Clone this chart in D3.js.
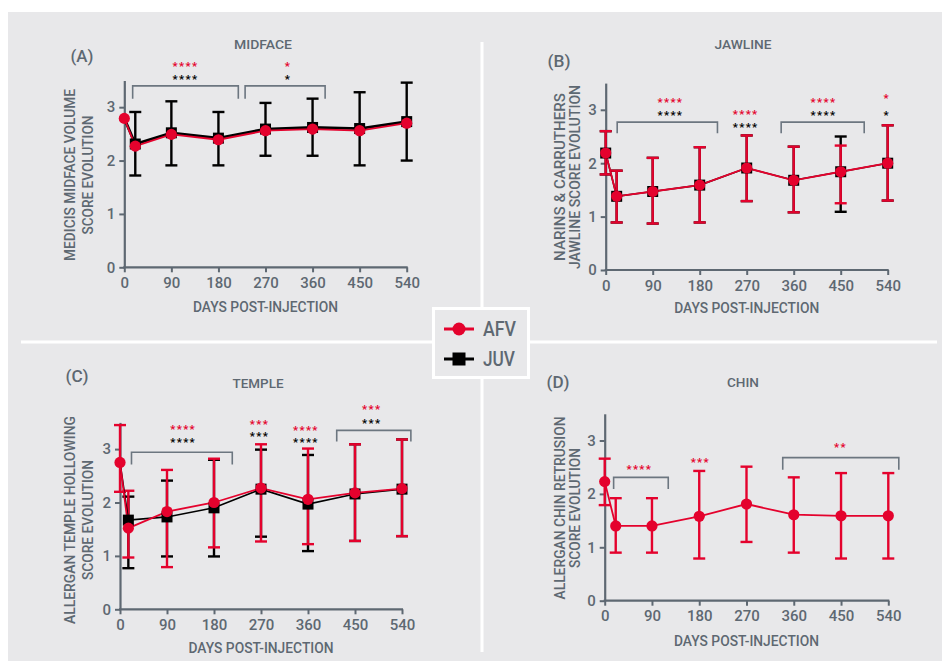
<!DOCTYPE html>
<html><head><meta charset="utf-8">
<script src="https://cdn.jsdelivr.net/npm/d3@7"></script>
<style>
html,body{margin:0;padding:0;background:#fff;}
svg{display:block;font-family:Roboto,"Open Sans",sans-serif;}
</style></head>
<body>
<svg id="c" width="942" height="661"></svg>
<script>
// ---------------- DATA ----------------
const dayTicks = [0, 90, 180, 270, 360, 450, 540];
const yTicks = [0, 1, 2, 3];
const days = [0, 21, 90, 180, 270, 360, 450, 540];
const daysTemple = [0, 16, 90, 180, 270, 360, 450, 540];

// (A) Midface
const midfaceAFV    = [2.79, 2.27, 2.49, 2.39, 2.56, 2.59, 2.56, 2.70];
const midfaceJUV    = [2.79, 2.31, 2.52, 2.42, 2.59, 2.62, 2.60, 2.73];
const midfaceJUVLo  = [null, 1.72, 1.91, 1.91, 2.09, 2.09, 1.91, 2.00];
const midfaceJUVHi  = [null, 2.91, 3.11, 2.91, 3.08, 3.16, 3.28, 3.46];
const midfaceBrackets = [[16, 218, 3.40, 3.16], [231, 384, 3.40, 3.16]];
const midfaceStars = [
  [117, 3.81, "****", 3.58, "****"],
  [313, 3.81, "*", 3.58, "*"]
];

// (B) Jawline
const jawAFV   = [2.19, 1.38, 1.47, 1.59, 1.91, 1.68, 1.84, 2.00];
const jawAFVLo = [1.79, 0.89, 0.87, 0.89, 1.29, 1.08, 1.25, 1.30];
const jawAFVHi = [2.60, 1.86, 2.10, 2.30, 2.52, 2.31, 2.33, 2.71];
const jawJUV   = [2.19, 1.38, 1.47, 1.59, 1.91, 1.68, 1.84, 2.00];
const jawJUVLo = [1.79, 0.89, 0.87, 0.89, 1.29, 1.08, 1.09, 1.30];
const jawJUVHi = [2.60, 1.86, 2.10, 2.30, 2.52, 2.31, 2.50, 2.71];
const jawBrackets = [[22, 214, 2.77, 2.56], [336, 495, 2.77, 2.56]];
const jawStars = [
  [124, 3.18, "****", 2.94, "****"],
  [268, 2.96, "****", 2.73, "****"],
  [417, 3.18, "****", 2.94, "****"],
  [538, 3.26, "*", 2.95, "*"]
];

// (C) Temple
const templeAFV   = [2.75, 1.52, 1.83, 2.00, 2.27, 2.06, 2.18, 2.26];
const templeAFVLo = [2.20, 0.97, 0.79, 1.16, 1.27, 1.22, 1.28, 1.37];
const templeAFVHi = [3.45, 2.22, 2.61, 2.82, 3.09, 3.01, 3.09, 3.18];
const templeJUV   = [2.75, 1.67, 1.73, 1.90, 2.25, 1.97, 2.16, 2.25];
const templeJUVLo = [null, 0.77, 0.99, 0.99, 1.36, 1.09, 1.28, 1.37];
const templeJUVHi = [null, 2.11, 2.41, 2.80, 2.99, 2.89, 3.09, 3.18];
const templeBrackets = [[22, 215, 2.94, 2.71], [415, 557, 3.35, 3.14]];
const templeStars = [
  [121, 3.42, "****", 3.17, "****"],
  [267, 3.52, "***", 3.28, "***"],
  [356, 3.41, "****", 3.17, "****"],
  [482, 3.79, "***", 3.54, "***"]
];

// (D) Chin
const chinAFV   = [2.23, 1.40, 1.40, 1.58, 1.81, 1.61, 1.59, 1.59];
const chinAFVLo = [1.79, 0.90, 0.90, 0.79, 1.10, 0.90, 0.79, 0.79];
const chinAFVHi = [2.66, 1.92, 1.92, 2.43, 2.51, 2.31, 2.39, 2.39];
const chinBrackets = [[17, 121, 2.31, 2.09], [339, 560, 2.68, 2.45]];
const chinStars = [
  [66, 2.51, "****", null, null],
  [182, 2.64, "***", null, null],
  [449, 2.93, "**", null, null]
];

// ---------------- STYLE ----------------
const RED = "#e4022d", BLACK = "#000", GREY = "#5e6872", BG = "#e8e8ea";

const panels = [
  { tag: "(A)", tagPos: [82, 56], title: "MIDFACE", titleX: 263, titleY: 44, titleLen: 58,
    ylab: ["MEDICIS MIDFACE VOLUME", "SCORE EVOLUTION"], ylabX: [70, 88], ylabY: 175, ylabLen: [172, 119],
    xlabY: 307, xr: [124.3, 406.7], yr: [267.3, 80.5],
    days: days, afv: midfaceAFV, afvLo: null, afvHi: null, juv: midfaceJUV, juvLo: midfaceJUVLo, juvHi: midfaceJUVHi,
    brackets: midfaceBrackets, stars: midfaceStars },
  { tag: "(B)", tagPos: [559, 61], title: "JAWLINE", titleX: 743, titleY: 44, titleLen: 57,
    ylab: ["NARINS & CARRUTHERS", "JAWLINE SCORE EVOLUTION"], ylabX: [560, 575], ylabY: 177, ylabLen: [168, 184],
    xlabY: 308, xr: [605.7, 887.7], yr: [270, 83.1],
    days: days, afv: jawAFV, afvLo: jawAFVLo, afvHi: jawAFVHi, juv: jawJUV, juvLo: jawJUVLo, juvHi: jawJUVHi,
    brackets: jawBrackets, stars: jawStars },
  { tag: "(C)", tagPos: [77, 376], title: "TEMPLE", titleX: 258, titleY: 383, titleLen: 51,
    ylab: ["ALLERGAN TEMPLE HOLLOWING", "SCORE EVOLUTION"], ylabX: [70, 88], ylabY: 520, ylabLen: [208, 120],
    xlabY: 648, xr: [120, 402], yr: [609.3, 422.4],
    days: daysTemple, afv: templeAFV, afvLo: templeAFVLo, afvHi: templeAFVHi, juv: templeJUV, juvLo: templeJUVLo, juvHi: templeJUVHi,
    brackets: templeBrackets, stars: templeStars },
  { tag: "(D)", tagPos: [558, 382], title: "CHIN", titleX: 743, titleY: 382, titleLen: 32,
    ylab: ["ALLERGAN CHIN RETRUSION", "SCORE EVOLUTION"], ylabX: [560, 575], ylabY: 508, ylabLen: [183, 120],
    xlabY: 641, xr: [604.7, 888.3], yr: [600.7, 413.8],
    days: days, afv: chinAFV, afvLo: chinAFVLo, afvHi: chinAFVHi, juv: null, juvLo: null, juvHi: null,
    brackets: chinBrackets, stars: chinStars }
];

const svg = d3.select("#c");
svg.append("rect").attr("x", 8).attr("y", 12).attr("width", 934).attr("height", 649).attr("fill", BG);
// dividers
svg.append("line").attr("x1", 482).attr("x2", 482).attr("y1", 42).attr("y2", 652).attr("stroke", "#fff").attr("stroke-width", 3);
svg.append("line").attr("x1", 21).attr("x2", 937).attr("y1", 342).attr("y2", 342).attr("stroke", "#fff").attr("stroke-width", 3);

function capText(g, x, yc, str, size, opts = {}) {
  const t = g.append("text").attr("x", x).attr("y", yc + size * 0.355)
    .attr("font-size", size).attr("fill", opts.fill || GREY)
    .attr("text-anchor", opts.anchor || "middle")
    .attr("font-weight", opts.weight || 500).text(str);
  if (opts.len) t.attr("textLength", opts.len).attr("lengthAdjust", "spacingAndGlyphs");
  return t;
}

panels.forEach(p => {
  const g = svg.append("g");
  const x = d3.scaleLinear().domain([0, 540]).range(p.xr);
  const y = d3.scaleLinear().domain([0, 3.5]).range(p.yr);

  capText(g, p.tagPos[0], p.tagPos[1], p.tag, 17, { len: 23 });
  capText(g, p.titleX, p.titleY, p.title, 13, { len: p.titleLen });
  capText(g, (p.xr[0] + p.xr[1]) / 2, p.xlabY, "DAYS POST-INJECTION", 15, { len: 145 });
  p.ylab.forEach((s, i) => {
    const xx = p.ylabX[i];
    g.append("text").attr("transform", `translate(${xx + 5.2},${p.ylabY}) rotate(-90)`)
      .attr("text-anchor", "middle").attr("font-size", 14.5).attr("font-weight", 500).attr("fill", GREY)
      .attr("textLength", p.ylabLen[i]).attr("lengthAdjust", "spacingAndGlyphs").text(s);
  });

  // axes
  const xAxis = d3.axisBottom(x).tickValues(dayTicks).tickSize(5).tickSizeOuter(0).tickPadding(5).tickFormat(d3.format("d"));
  const yAxis = d3.axisLeft(y).tickValues(yTicks).tickSize(5).tickSizeOuter(0).tickPadding(4).tickFormat(d3.format("d"));
  const gx = g.append("g").attr("transform", `translate(0,${p.yr[0]})`).call(xAxis);
  const gy = g.append("g").attr("transform", `translate(${p.xr[0]},0)`).call(yAxis);
  [gx, gy].forEach(a => {
    a.select(".domain").attr("stroke", GREY).attr("stroke-width", 2.2);
    a.selectAll(".tick line").attr("stroke", GREY).attr("stroke-width", 2);
    a.selectAll(".tick text").attr("fill", GREY).attr("font-size", 15).attr("font-weight", 500).attr("font-family", "Roboto, sans-serif");
  });
  gx.select(".domain").attr("d", `M${p.xr[0] - 1},0H${p.xr[1] + 1}`);

  // brackets
  p.brackets.forEach(b => {
    g.append("path")
      .attr("d", `M${x(b[0])},${y(b[3])}V${y(b[2])}H${x(b[1])}V${y(b[3])}`)
      .attr("fill", "none").attr("stroke", "#6c7680").attr("stroke-width", 1.6);
  });
  // stars
  p.stars.forEach(s => {
    const cx = x(s[0]);
    g.append("text").attr("x", cx).attr("y", y(s[1]) + 6.3).attr("text-anchor", "middle")
      .attr("font-size", 11.3).attr("font-weight", 700).attr("letter-spacing", 1.3)
      .attr("fill", RED).text(s[2]);
    if (s[4]) g.append("text").attr("x", cx).attr("y", y(s[3]) + 6.3).attr("text-anchor", "middle")
      .attr("font-size", 11.3).attr("font-weight", 700).attr("letter-spacing", 1.3)
      .attr("fill", BLACK).text(s[4]);
  });

  function errBars(vals, lo, hi, color, w) {
    if (!lo) return;
    const idx = d3.range(vals.length).filter(i => lo[i] != null);
    const eg = g.append("g").attr("stroke", color).attr("stroke-width", w).attr("fill", "none");
    idx.forEach(i => {
      const cx = x(p.days[i]);
      eg.append("line").attr("x1", cx).attr("x2", cx).attr("y1", y(lo[i])).attr("y2", y(hi[i]));
      eg.append("line").attr("x1", cx - 6).attr("x2", cx + 6).attr("y1", y(lo[i])).attr("y2", y(lo[i]));
      eg.append("line").attr("x1", cx - 6).attr("x2", cx + 6).attr("y1", y(hi[i])).attr("y2", y(hi[i]));
    });
  }
  errBars(p.juv, p.juvLo, p.juvHi, BLACK, 2.4);
  errBars(p.afv, p.afvLo, p.afvHi, RED, 2.4);

  const line = d3.line().x((d, i) => x(p.days[i])).y(d => y(d));
  if (p.juv) g.append("path").datum(p.juv).attr("d", line).attr("fill", "none").attr("stroke", BLACK).attr("stroke-width", p.afvLo ? 1.6 : 2.8);
  g.append("path").datum(p.afv).attr("d", line).attr("fill", "none").attr("stroke", RED).attr("stroke-width", 1.8);
  if (p.juv) {
    const sq = d3.range(p.juv.length).filter(i => p.juvLo[i] != null);
    g.selectAll(null).data(sq).enter().append("rect")
      .attr("x", i => x(p.days[i]) - 5.5).attr("y", i => y(p.juv[i]) - 5.5)
      .attr("width", 11).attr("height", 11).attr("fill", BLACK);
  }
  g.selectAll(null).data(p.afv).enter().append("circle")
    .attr("cx", (d, i) => x(p.days[i])).attr("cy", d => y(d)).attr("r", 5.6).attr("fill", RED);
});

// legend
const lg = svg.append("g");
lg.append("rect").attr("x", 433.5).attr("y", 308.5).attr("width", 95).attr("height", 69)
  .attr("fill", BG).attr("stroke", "#fff").attr("stroke-width", 3);
lg.append("line").attr("x1", 444).attr("x2", 474).attr("y1", 329).attr("y2", 329).attr("stroke", RED).attr("stroke-width", 3);
lg.append("circle").attr("cx", 459).attr("cy", 329).attr("r", 6.5).attr("fill", RED);
lg.append("line").attr("x1", 444).attr("x2", 474).attr("y1", 359).attr("y2", 359).attr("stroke", BLACK).attr("stroke-width", 3);
lg.append("rect").attr("x", 452.5).attr("y", 352.5).attr("width", 13).attr("height", 13).attr("fill", BLACK);
capText(lg, 483, 329, "AFV", 20, { anchor: "start", len: 33 });
capText(lg, 483, 359, "JUV", 20, { anchor: "start", len: 32 });
</script>
</body></html>
